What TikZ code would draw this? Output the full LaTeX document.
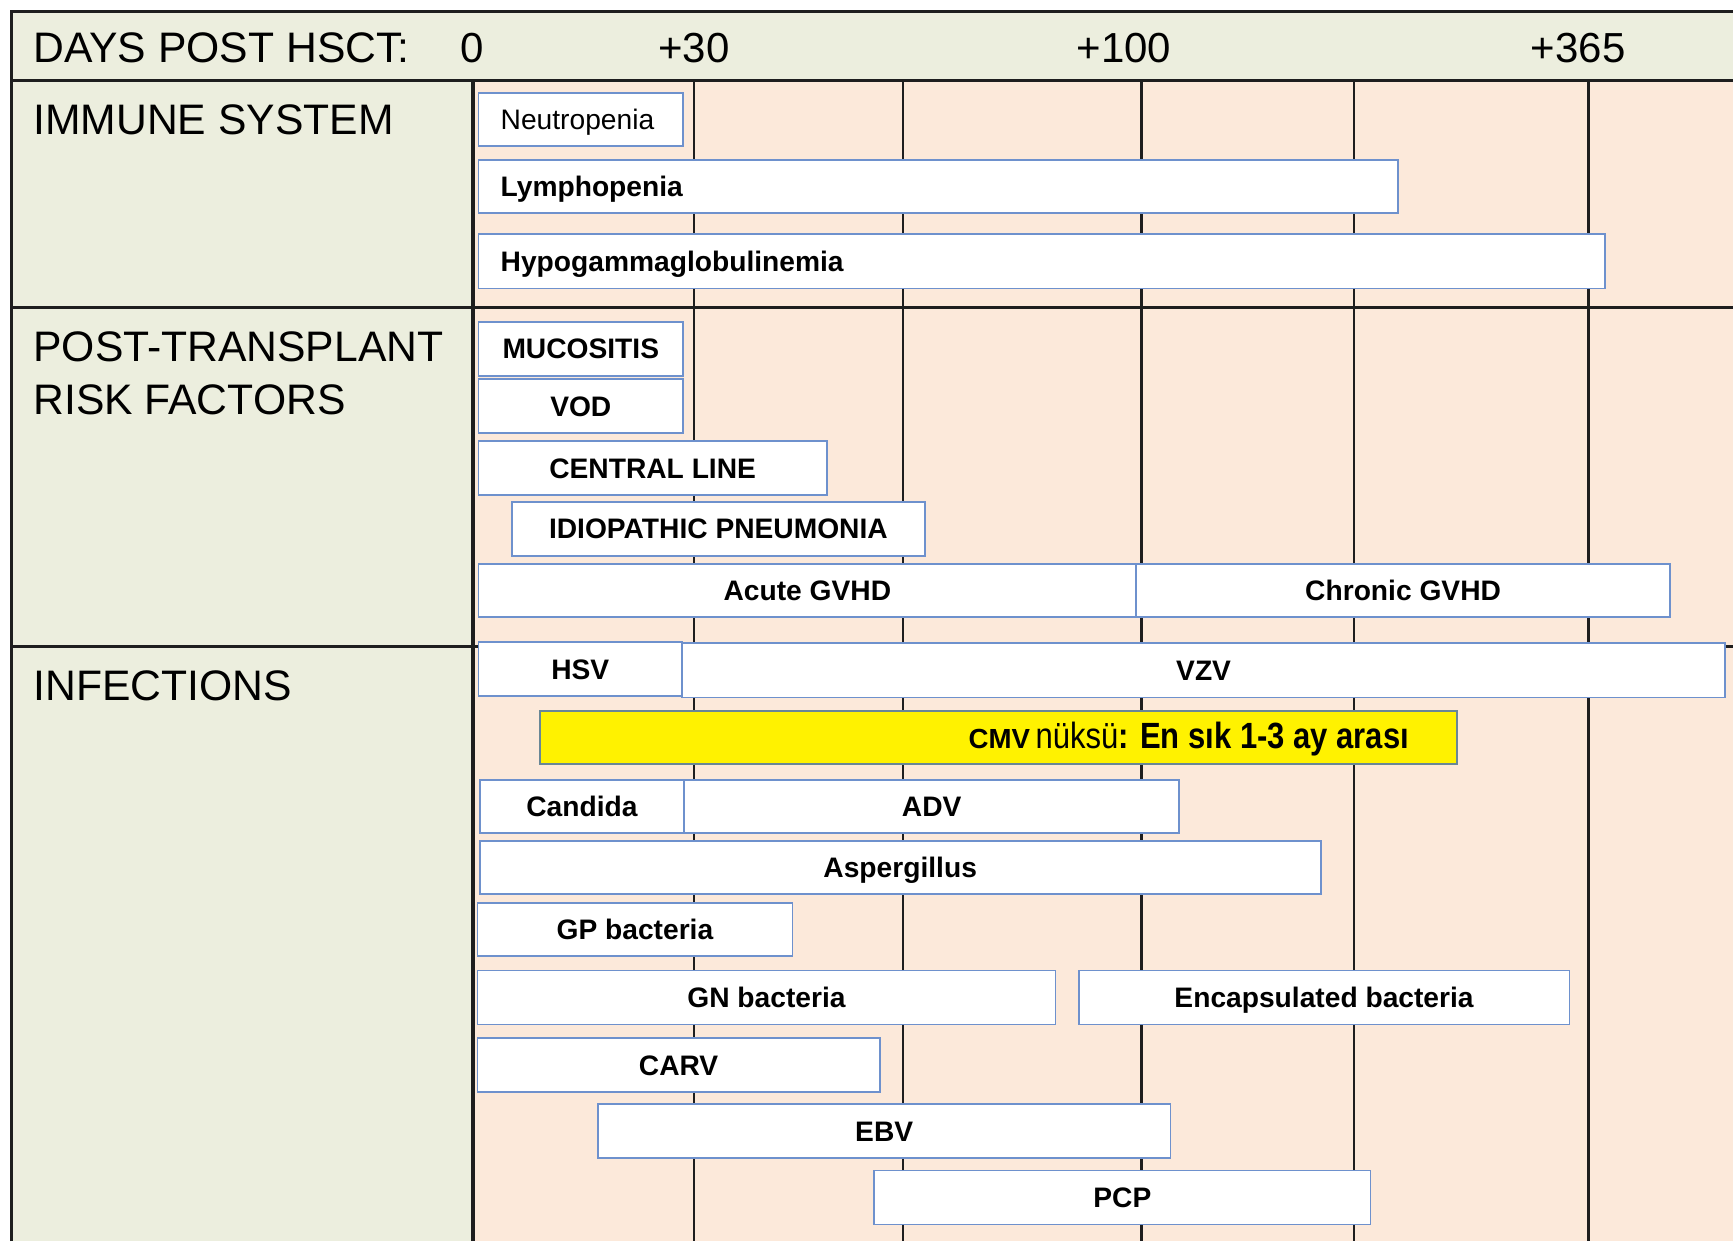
\documentclass[tikz,border=0pt]{standalone}
\usepackage{fontspec}
\setmainfont{Liberation Sans}
\usepackage{graphicx}
\definecolor{leftbg}{RGB}{236,238,222}
\definecolor{peach}{RGB}{252,233,218}
\definecolor{barblue}{RGB}{110,145,205}
\definecolor{cmvedge}{RGB}{105,135,150}
\definecolor{gridc}{RGB}{30,30,30}
\tikzset{
  mainline/.style={draw=gridc, line width=2.8pt},
  gridline/.style={draw=gridc, line width=2.4pt},
  bar/.style={draw=barblue, fill=white, line width=1.6pt, inner sep=0pt, outer sep=0pt,
    text height=18.3pt, text depth=0pt,
    font=\fontsize{25.5}{30}\selectfont\bfseries},
  barleft/.style={bar, align=left, inner xsep=20pt},
  cmvbar/.style={draw=cmvedge, fill=yellow, line width=1.8pt, inner sep=0pt, outer sep=0pt},
  head/.style={anchor=base west, inner sep=0pt, font=\fontsize{38.6}{44}\selectfont},
  tick/.style={anchor=base, inner sep=0pt, font=\fontsize{38}{44}\selectfont},
}
\newcommand\bx[7]{%
  \node[#6, minimum width={#3pt-#2pt}, minimum height={#5pt-#4pt}, anchor=north west] (#1) at (#2,#4) {#7};}
\newcommand\bxl[8]{%
  \node[#6, text width={#3pt-#2pt-40pt}, minimum height={#5pt-#4pt}, anchor=north west, font=\fontsize{25.5}{30}\selectfont#8] (#1) at (#2,#4) {#7};}
\begin{document}
\begin{tikzpicture}[x=1pt, y=-1pt]
\useasboundingbox (0,0) rectangle (1568,1123);
% backgrounds
\fill[white] (0,0) rectangle (1568,1123);
\fill[leftbg] (10,10) rectangle (1568,73);
\fill[leftbg] (10,73) rectangle (428,1123);
\fill[peach] (428,73) rectangle (1568,1123);
% grid lines
\foreach \gx in {628,817,1033,1225,1437}
  \draw[gridline] (\gx,73) -- (\gx,1123);
% frame lines
\draw[mainline] (10,1123) -- (10,10) -- (1568,10);
\draw[mainline] (10,73) -- (1568,73);
\draw[mainline] (10,278) -- (1568,278);
\draw[mainline] (10,585) -- (1568,585);
\draw[mainline] (428,73) -- (428,1123);
% header texts
\node[head] (days) at (30,57) {DAYS POST HSCT:};
\node[tick] (t0) at (427,57) {0};
\node[tick] (t30) at (628,57) {+30};
\node[tick] (t100) at (1017,57) {+100};
\node[tick] (t365) at (1428,57) {+365};
\node[head] (imm) at (30,122) {IMMUNE SYSTEM};
\node[head] (post1) at (30,327) {POST-TRANSPLANT};
\node[head] (post2) at (30,375) {RISK FACTORS};
\node[head] (inf) at (30,634) {INFECTIONS};
% immune bars
\bxl{neut}{433}{618}{84}{132}{barleft}{Neutropenia}{\mdseries}
\bxl{lymph}{433}{1265}{145}{193}{barleft}{Lymphopenia}{\bfseries}
\bxl{hypo}{433}{1452}{212}{261}{barleft}{Hypogammaglobulinemia}{\bfseries}
% risk factors
\bx{muco}{433}{618}{291}{340}{bar}{MUCOSITIS}
\bx{vod}{433}{618}{343}{392}{bar}{VOD}
\bx{cline}{433}{748}{399}{448}{bar}{CENTRAL LINE}
\bx{idio}{463}{837}{454}{503}{bar}{IDIOPATHIC PNEUMONIA}
\bx{agvhd}{433}{1028}{510}{558}{bar}{Acute GVHD}
\bx{cgvhd}{1028}{1511}{510}{558}{bar}{Chronic GVHD}
% infections
\bx{hsv}{433}{617}{581}{630}{bar}{HSV}
\bx{vzv}{617}{1561}{582}{631}{bar}{VZV}
\bx{cmv}{489}{1318}{643}{691}{cmvbar}{}
\node[anchor=base east, inner sep=0pt] (cmvtxt) at (1275,677)
  {{\fontsize{25}{28}\selectfont\bfseries CMV}\hspace{5pt}\scalebox{0.85}[1]{\fontsize{33}{38}\selectfont n\"{u}ks\"{u}\bfseries: En s\i k 1-3 ay aras\i}};
\bx{cand}{434}{619}{706}{754}{bar}{Candida}
\bx{adv}{619}{1067}{706}{754}{bar}{ADV}
\bx{asp}{434}{1195}{761}{809}{bar}{Aspergillus}
\bx{gp}{432}{717}{817}{865}{bar}{GP bacteria}
\bx{gn}{432}{955}{878}{927}{bar}{GN bacteria}
\bx{enc}{976}{1420}{878}{927}{bar}{Encapsulated bacteria}
\bx{carv}{432}{796}{939}{988}{bar}{CARV}
\bx{ebv}{541}{1059}{999}{1048}{bar}{EBV}
\bx{pcp}{791}{1240}{1059}{1108}{bar}{PCP}
\end{tikzpicture}
\end{document}
